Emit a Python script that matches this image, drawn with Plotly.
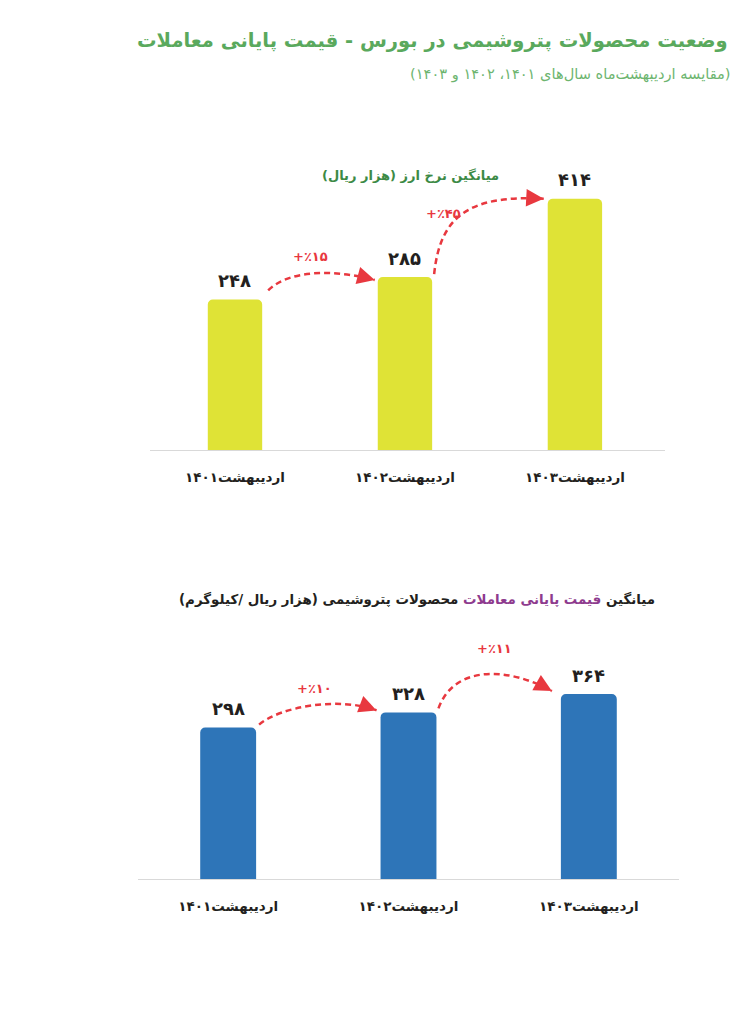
import plotly.graph_objects as go

W, H = 744, 1024
FONT = "DejaVu Sans"

# ---------------- data ----------------
periods = ["اردیبهشت۱۴۰۱", "اردیبهشت۱۴۰۲", "اردیبهشت۱۴۰۳"]
fx_rate = [248, 285, 414]
fx_change = ["+٪۱۵", "+٪۴۵"]
petro_price = [298, 328, 364]
petro_change = ["+٪۱۰", "+٪۱۱"]

title_text = "وضعیت محصولات پتروشیمی در بورس - قیمت پایانی معاملات"
subtitle_text = "(مقایسه اردیبهشت\u200cماه سال\u200cهای ۱۴۰۱، ۱۴۰۲ و ۱۴۰۳)"
fx_title = "میانگین نرخ ارز (هزار ریال)"
petro_title_a = "میانگین "
petro_title_b = "قیمت پایانی معاملات"
petro_title_c = " محصولات پتروشیمی (هزار ریال /کیلوگرم)"

FA_DIGITS = "۰۱۲۳۴۵۶۷۸۹"


def fa(n):
    return "".join(FA_DIGITS[int(c)] for c in str(n))


def rtl(s):
    return "\u202b" + s + "\u202c"


def ltr(s):
    return "\u202d" + s + "\u202c"


RED = "#e8383f"
TXT = "#231f20"

panels = [
    dict(values=fx_rate, changes=fx_change, color="#dfe336", xa="x", ya="y",
         xdom=(150, 665), xr=(-0.5, 2.53), base=450, top=150, ppu=0.607, bw=0.32,
         # arrow geometry (pixel offsets): start offset, end offset, ctrl1 (rel P0), ctrl2 (rel P3), label (rel P0)
         arrows=[dict(o0=(6, -9), o3=(-3, 3), c1=(22, -22), c2=(-37, -10), lab=(42, -34)),
                 dict(o0=(2, -3), o3=(-4, 0), c1=(6, -57), c2=(-76, -4), lab=(9, -61))]),
    dict(values=petro_price, changes=petro_change, color="#2e75b8", xa="x2", ya="y2",
         xdom=(138, 679), xr=(-0.5, 2.5), base=879, top=620, ppu=0.508, bw=0.31,
         arrows=[dict(o0=(3, -3), o3=(-4, -2), c1=(21, -18), c2=(-37, -14), lab=(55, -36)),
                 dict(o0=(2, -4), o3=(-9, -3), c1=(16, -44), c2=(-43, -24), lab=(56, -60))]),
]

fig = go.Figure()
shapes = []
annotations = []

for k, p in enumerate(panels):
    xs = list(range(len(p["values"])))
    fig.add_trace(go.Bar(x=xs, y=p["values"], width=p["bw"], marker_color=p["color"],
                         marker_line_width=0, xaxis=p["xa"], yaxis=p["ya"],
                         showlegend=False, hoverinfo="skip"))
    xd0, xd1 = p["xdom"]
    xr0, xr1 = p["xr"]
    sx = (xd1 - xd0) / (xr1 - xr0)  # px per x unit
    ppu = p["ppu"]

    def to_px(xd, yd, xd0=xd0, xr0=xr0, sx=sx, base=p["base"], ppu=ppu):
        return (xd0 + (xd - xr0) * sx, base - yd * ppu)

    def to_data(px, py, xd0=xd0, xr0=xr0, sx=sx, base=p["base"], ppu=ppu):
        return (xr0 + (px - xd0) / sx, (base - py) / ppu)

    dom_x = [xd0 / W, xd1 / W]
    dom_y = [1 - p["base"] / H, 1 - p["top"] / H]
    axis_x = dict(domain=dom_x, range=list(p["xr"]), tickvals=xs, ticktext=periods,
                  showgrid=False, zeroline=False, showline=True, linecolor="#d9d9d9",
                  linewidth=1, ticks="", ticklabelstandoff=15,
                  tickfont=dict(family=FONT, size=13.5, color=TXT, weight="bold"),
                  anchor=p["ya"], fixedrange=True)
    axis_y = dict(domain=dom_y, range=[0, (p["base"] - p["top"]) / ppu], visible=False,
                  anchor=p["xa"], fixedrange=True)
    sfx = "" if k == 0 else str(k + 1)
    fig.update_layout(**{"xaxis" + sfx: axis_x, "yaxis" + sfx: axis_y})

    # value labels
    for i, v in enumerate(p["values"]):
        annotations.append(dict(x=i, y=v, xref=p["xa"], yref=p["ya"], text=fa(v),
                                showarrow=False, yanchor="middle", yshift=19,
                                font=dict(family=FONT, size=18, color=TXT, weight="bold")))

    # change arrows
    hw = p["bw"] / 2
    for i, a in enumerate(p["arrows"]):
        v0, v1 = p["values"][i], p["values"][i + 1]
        S = to_px(i + hw, v0)
        E = to_px(i + 1 - hw, v1)
        P0 = (S[0] + a["o0"][0], S[1] + a["o0"][1])
        P3 = (E[0] + a["o3"][0], E[1] + a["o3"][1])
        C1 = (P0[0] + a["c1"][0], P0[1] + a["c1"][1])
        C2 = (P3[0] + a["c2"][0], P3[1] + a["c2"][1])
        d = [to_data(*pt) for pt in (P0, C1, C2, P3)]
        path = "M {:.4f},{:.4f} C {:.4f},{:.4f} {:.4f},{:.4f} {:.4f},{:.4f}".format(
            d[0][0], d[0][1], d[1][0], d[1][1], d[2][0], d[2][1], d[3][0], d[3][1])
        shapes.append(dict(type="path", path=path, xref=p["xa"], yref=p["ya"],
                           line=dict(color=RED, width=2.5, dash="6px,4px")))
        # arrow head
        dx, dy = P3[0] - C2[0], P3[1] - C2[1]
        n = (dx * dx + dy * dy) ** 0.5
        ux, uy = dx / n, dy / n
        annotations.append(dict(x=d[3][0], y=d[3][1], xref=p["xa"], yref=p["ya"], text="",
                                showarrow=True, arrowhead=2, arrowsize=1.4, arrowwidth=2.5,
                                arrowcolor=RED, ax=-ux * 9, ay=-uy * 9, standoff=0))
        annotations.append(dict(x=d[0][0], y=d[0][1], xref=p["xa"], yref=p["ya"],
                                text=ltr(p["changes"][i]), showarrow=False,
                                xshift=a["lab"][0], yshift=-a["lab"][1],
                                font=dict(family=FONT, size=13, color=RED, weight="bold")))

# titles
annotations += [
    dict(x=730 / W, y=1 - 40 / H, xref="paper", yref="paper", xanchor="right", yanchor="middle",
         text=rtl(title_text), showarrow=False,
         font=dict(family=FONT, size=19.5, color="#5aa95d", weight="bold")),
    dict(x=733 / W, y=1 - 74 / H, xref="paper", yref="paper", xanchor="right", yanchor="middle",
         text=rtl(subtitle_text), showarrow=False,
         font=dict(family=FONT, size=14.6, color="#6db56f")),
    dict(x=411 / W, y=1 - 175 / H, xref="paper", yref="paper", xanchor="center", yanchor="middle",
         text=rtl(fx_title), showarrow=False,
         font=dict(family=FONT, size=13, color="#3c8a45", weight="bold")),
    dict(x=417 / W, y=1 - 599 / H, xref="paper", yref="paper", xanchor="center", yanchor="middle",
         text=rtl(petro_title_a + "<span style='color:#8e3b8e'>" + petro_title_b + "</span>" + petro_title_c),
         showarrow=False,
         font=dict(family=FONT, size=13.4, color=TXT, weight="bold")),
]

fig.update_layout(width=W, height=H, margin=dict(l=0, r=0, t=0, b=0),
                  paper_bgcolor="white", plot_bgcolor="white",
                  barcornerradius=5, shapes=shapes, annotations=annotations,
                  showlegend=False)

fig.write_html("out.html", config={"displayModeBar": False})
